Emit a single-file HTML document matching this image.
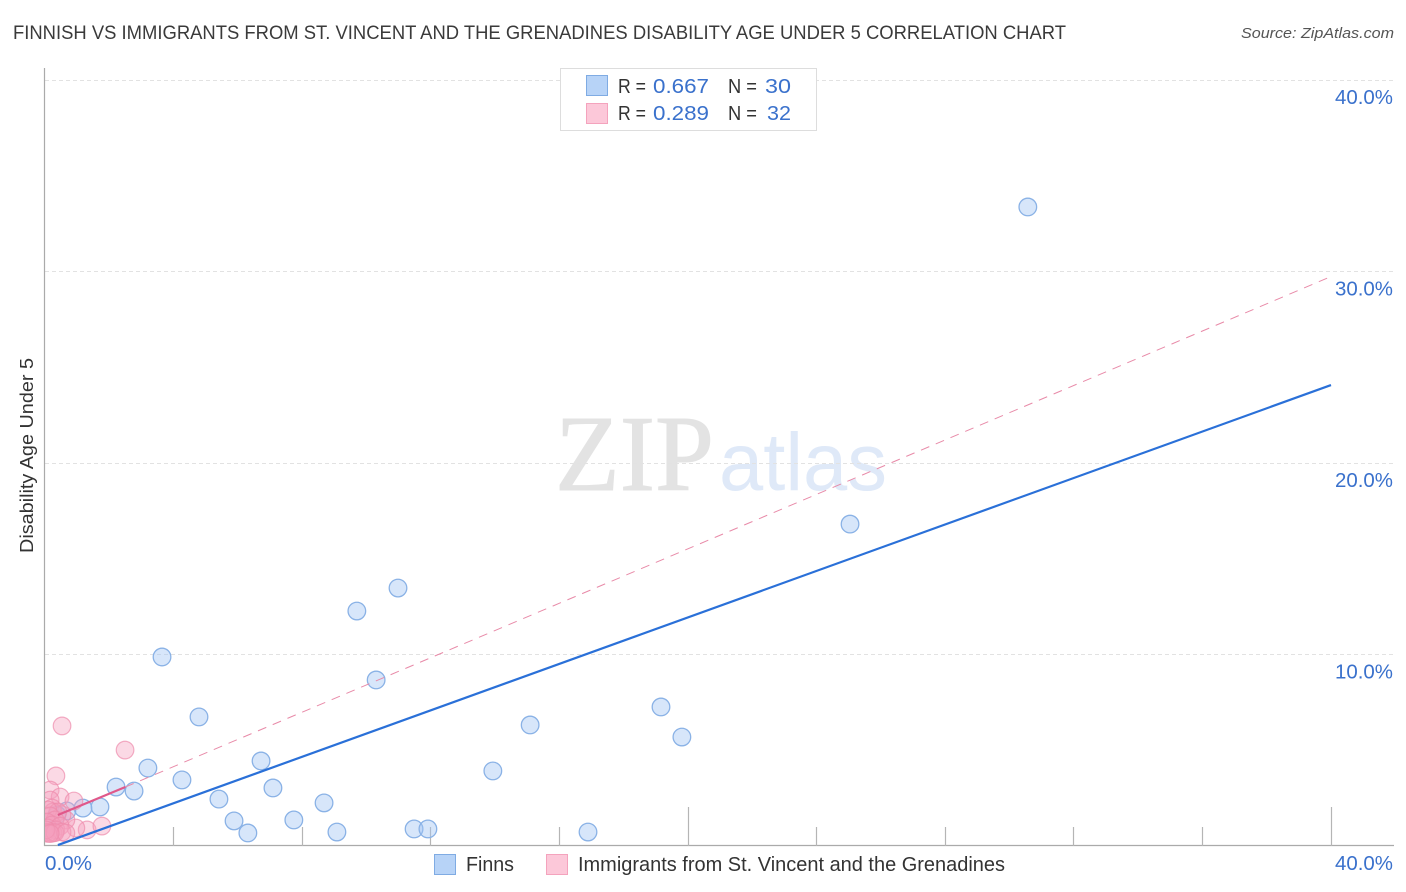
<!DOCTYPE html>
<html lang="en">
<head>
<meta charset="utf-8">
<title>Finnish vs Immigrants Disability Age Under 5 Correlation Chart</title>
<style>
html,body{margin:0;padding:0;background:#fff;width:1406px;height:892px;overflow:hidden}
svg{display:block;font-family:"Liberation Sans",sans-serif}
</style>
</head>
<body>
<svg id="chart" xmlns="http://www.w3.org/2000/svg" width="1406" height="892" viewBox="0 0 1406 892">
  <defs><clipPath id="plot-clip"><rect x="45" y="60" width="1349" height="786"/></clipPath></defs>
  <rect x="0" y="0" width="1406" height="892" fill="#ffffff"/>
  <text x="13" y="39" font-size="19.5" fill="#3a3a3a" textLength="1053" lengthAdjust="spacingAndGlyphs">FINNISH VS IMMIGRANTS FROM ST. VINCENT AND THE GRENADINES DISABILITY AGE UNDER 5 CORRELATION CHART</text>
  <text x="1241" y="38" font-size="15" font-style="italic" fill="#555555" textLength="153" lengthAdjust="spacingAndGlyphs">Source: ZipAtlas.com</text>
  <text x="555" y="490" font-family="'Liberation Serif',serif" font-size="108" fill="#e3e3e3" stroke="#e3e3e3" stroke-width="1" textLength="159" lengthAdjust="spacingAndGlyphs">ZIP</text>
  <text x="719" y="490" font-size="82" fill="#dfe9f8" textLength="168" lengthAdjust="spacingAndGlyphs">atlas</text>
  <g id="grid"></g>
  <g id="axes"></g>
  <g id="marks-finns" clip-path="url(#plot-clip)"></g>
  <g id="marks-immigrants" clip-path="url(#plot-clip)"></g>
  <g id="trends"></g>
  <text transform="translate(33,553) rotate(-90)" font-size="18" fill="#333333" textLength="195" lengthAdjust="spacingAndGlyphs">Disability Age Under 5</text>

  <g>
    <rect x="560.5" y="68.5" width="256" height="62" fill="#ffffff" stroke="#dddddd"/>
    <rect x="586.5" y="75.5" width="21" height="20" fill="#b7d3f7" stroke="#7fabe3"/>
    <rect x="586.5" y="103.5" width="21" height="20" fill="#fcc8d9" stroke="#f4a3bd"/>
    <g font-size="20">
      <text x="618" y="93" fill="#333333" textLength="28" lengthAdjust="spacingAndGlyphs">R =</text>
      <text x="653" y="93" fill="#3a71cc" textLength="56" lengthAdjust="spacingAndGlyphs">0.667</text>
      <text x="728" y="93" fill="#333333" textLength="29" lengthAdjust="spacingAndGlyphs">N =</text>
      <text x="765" y="93" fill="#3a71cc" textLength="26" lengthAdjust="spacingAndGlyphs">30</text>
      <text x="618" y="120" fill="#333333" textLength="28" lengthAdjust="spacingAndGlyphs">R =</text>
      <text x="653" y="120" fill="#3a71cc" textLength="56" lengthAdjust="spacingAndGlyphs">0.289</text>
      <text x="728" y="120" fill="#333333" textLength="29" lengthAdjust="spacingAndGlyphs">N =</text>
      <text x="767" y="120" fill="#3a71cc" textLength="24" lengthAdjust="spacingAndGlyphs">32</text>
    </g>
  </g>

  <g>
    <rect x="434.5" y="854.5" width="21" height="20" fill="#b7d3f7" stroke="#7fabe3"/>
    <text x="466" y="871" font-size="20" fill="#333333" textLength="48" lengthAdjust="spacingAndGlyphs">Finns</text>
    <rect x="546.5" y="854.5" width="21" height="20" fill="#fcc8d9" stroke="#f4a3bd"/>
    <text x="578" y="871" font-size="20" fill="#333333" textLength="427" lengthAdjust="spacingAndGlyphs">Immigrants from St. Vincent and the Grenadines</text>
  </g>
</svg>
<script>
var xTickValues = [0, 4, 8, 12, 16, 20, 24, 28, 32, 36, 40];
var yGridValues = [10, 20, 30, 40];
var yTickLabels = ["10.0%", "20.0%", "30.0%", "40.0%"];
var xEndLabels = ["0.0%", "40.0%"];
var finnsX = [30.57, 25.04, 10.98, 9.70, 3.64, 10.30, 4.79, 19.16, 15.09, 19.81, 6.72, 3.20, 13.93, 4.26, 2.21, 2.77, 7.09, 5.41, 8.68, 1.71, 1.18, 0.68, 5.88, 7.74, 6.31, 9.08, 11.48, 11.91, 16.89, 0.37];
var finnsY = [33.37, 16.81, 13.47, 12.27, 9.87, 8.67, 6.74, 7.26, 6.32, 5.69, 4.44, 4.07, 3.92, 3.45, 3.08, 2.87, 3.03, 2.45, 2.25, 2.04, 1.98, 1.83, 1.31, 1.36, 0.68, 0.73, 0.89, 0.89, 0.73, 1.62];
var immigrantsX = [0.53, 2.49, 0.34, 0.16, 0.47, 0.90, 0.16, 0.22, 0.25, 1.31, 1.77, 0.96, 0.65, 0.53, 0.40, 0.09, 0.16, 0.31, 0.06, 0.22, 0.47, 0.09, 0.34, 0.16, 0.03, 0.25, 0.53, 0.09, 0.31, 0.65, 0.03, 0.16];
var immigrantsY = [6.27, 5.01, 3.66, 2.92, 2.56, 2.35, 2.40, 1.98, 1.78, 0.84, 1.04, 0.94, 1.36, 1.62, 1.78, 1.88, 1.57, 1.36, 1.25, 1.10, 1.04, 0.94, 0.84, 0.73, 0.72, 0.68, 0.73, 0.66, 0.70, 0.68, 0.84, 0.65];
var finnsTrendX = [0.4, 40];
var finnsTrendY = [0.05, 24.07];
var immigrantsSolidX = [0.4, 2.5];
var immigrantsSolidY = [1.62, 3.08];
var immigrantsDashX = [2.5, 39.95];
var immigrantsDashY = [3.08, 29.7];

var NS = 'http://www.w3.org/2000/svg';
function xScale(v) { return 45 + v * (1331 - 45) / 40; }
function yScale(v) { return 846 - v * (846 - 80) / 40; }
function make(tag, parentId, attrs) {
  var el = document.createElementNS(NS, tag);
  for (var k in attrs) { el.setAttribute(k, attrs[k]); }
  document.getElementById(parentId).appendChild(el);
  return el;
}

yGridValues.forEach(function (v, i) {
  var y = Math.floor(yScale(v)) + 0.5;
  var line = make('line', 'grid', { x1: 45, x2: 1394, y1: y, y2: y, stroke: '#e2e2e2', 'stroke-width': 1, 'stroke-dasharray': '4 3' });
  
  
  var label = make('text', 'axes', { x: 1393, y: yScale(v) + 24, 'text-anchor': 'end', 'font-size': 20, fill: '#3a71cc', textLength: 58, lengthAdjust: 'spacingAndGlyphs' });
  label.textContent = yTickLabels[i];
  
  
});

var yAxis = make('line', 'axes', { x1: 44.5, x2: 44.5, y1: 68, y2: 846, stroke: '#aaaaaa', 'stroke-width': 1.2 });


var xAxis = make('line', 'axes', { x1: 44, x2: 1394, y1: 845.5, y2: 845.5, stroke: '#aaaaaa', 'stroke-width': 1.2 });



xTickValues.forEach(function (v) {
  if (v === 0) { return; }
  var x = Math.floor(xScale(v)) + 0.5;
  var top = (v % 20 === 0) ? 807 : 827;
  var tick = make('line', 'axes', { x1: x, x2: x, y1: top, y2: 846, stroke: '#b5b5b5', 'stroke-width': 1.2 });
  
  
});

var xLabelLeft = make('text', 'axes', { x: 45, y: 870, 'font-size': 20, fill: '#3a71cc', textLength: 47, lengthAdjust: 'spacingAndGlyphs' });
xLabelLeft.textContent = xEndLabels[0];


var xLabelRight = make('text', 'axes', { x: 1393, y: 870, 'text-anchor': 'end', 'font-size': 20, fill: '#3a71cc', textLength: 58, lengthAdjust: 'spacingAndGlyphs' });
xLabelRight.textContent = xEndLabels[1];



finnsX.forEach(function (v, i) {
  var c = make('circle', 'marks-finns', { cx: xScale(v), cy: yScale(finnsY[i]), r: 8.8, fill: 'rgba(160,196,242,0.42)', stroke: '#8ab2e6', 'stroke-width': 1.3 });
  
  
});

immigrantsX.forEach(function (v, i) {
  var c = make('circle', 'marks-immigrants', { cx: xScale(v), cy: yScale(immigrantsY[i]), r: 8.8, fill: 'rgba(246,160,190,0.4)', stroke: 'rgba(238,140,172,0.7)', 'stroke-width': 1.2 });
  
  
});

var dash = make('line', 'trends', { x1: xScale(immigrantsDashX[0]), y1: yScale(immigrantsDashY[0]), x2: xScale(immigrantsDashX[1]), y2: yScale(immigrantsDashY[1]), stroke: '#e88aa8', 'stroke-width': 1, 'stroke-dasharray': '9 7' });


var solid = make('line', 'trends', { x1: xScale(immigrantsSolidX[0]), y1: yScale(immigrantsSolidY[0]), x2: xScale(immigrantsSolidX[1]), y2: yScale(immigrantsSolidY[1]), stroke: '#e0588a', 'stroke-width': 2.2 });


var blue = make('line', 'trends', { x1: xScale(finnsTrendX[0]), y1: yScale(finnsTrendY[0]), x2: xScale(finnsTrendX[1]), y2: yScale(finnsTrendY[1]), stroke: '#2a70d8', 'stroke-width': 2.2 });


</script>
</body>
</html>
